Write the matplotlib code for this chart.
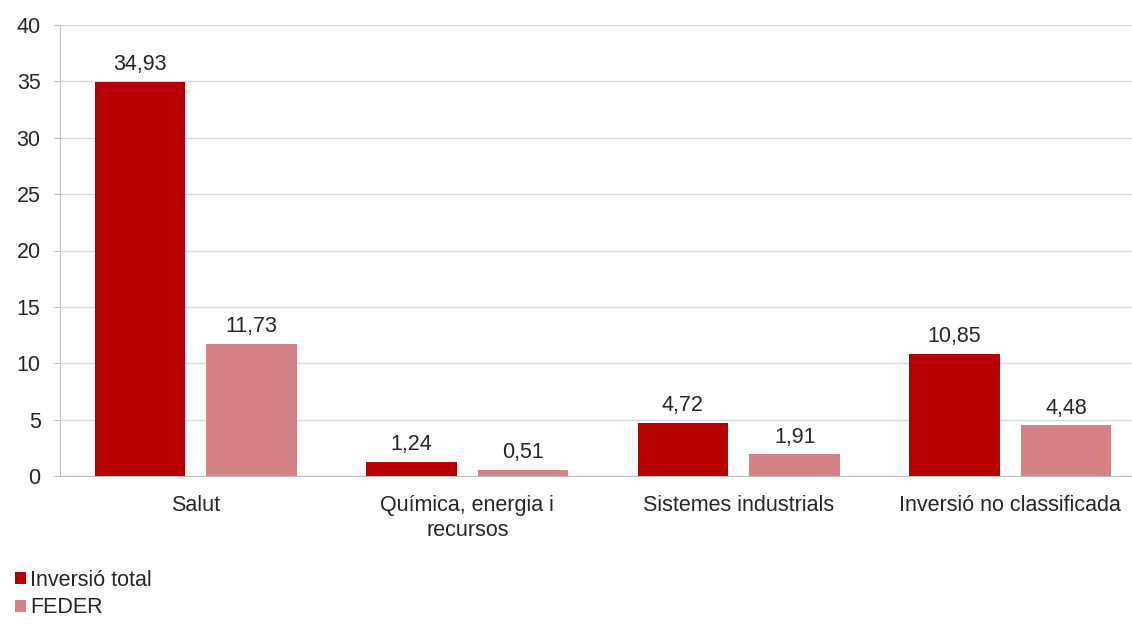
import numpy as np
import matplotlib.pyplot as plt

plt.rcParams['font.family'] = ['Liberation Sans', 'DejaVu Sans']

categories = ['Salut', 'Química, energia i\nrecursos', 'Sistemes industrials', 'Inversió no classificada']
inversio_total = [34.93, 1.24, 4.72, 10.85]
feder = [11.73, 0.51, 1.91, 4.48]
series_names = ['Inversió total', 'FEDER']

fig = plt.figure(figsize=(11.32, 6.24), dpi=100)
ax = fig.add_axes([60/1132, 148/624, 1086/1132, 451/624])

x = np.arange(len(categories))
w = 0.333
b1 = ax.bar(x - 0.206, inversio_total, w, color='#B90000', label=series_names[0], zorder=3)
b2 = ax.bar(x + 0.206, feder, w, color='#D48286', label=series_names[1], zorder=3)

for bars, vals in [(b1, inversio_total), (b2, feder)]:
    for r, v in zip(bars, vals):
        ax.text(r.get_x() + r.get_width()/2, v + 0.6, f'{v:.2f}'.replace('.', ','),
                ha='center', va='bottom', fontsize=15.5, color='#262626')

ax.set_ylim(0, 40)
ax.set_yticks(range(0, 41, 5))
ax.set_xlim(-0.5, 3.5)
ax.set_xticks(x)
ax.set_xticklabels(categories, fontsize=15.5, color='#262626')
ax.tick_params(axis='y', labelsize=15.5, labelcolor='#262626', length=4, color='#BFBFBF', pad=10)
ax.tick_params(axis='x', length=0, pad=14)
ax.grid(axis='y', color='#D9D9D9', linewidth=1, zorder=0)
for s in ['top', 'right']:
    ax.spines[s].set_visible(False)
ax.spines['left'].set_color('#BFBFBF')
ax.spines['bottom'].set_color('#BFBFBF')

fig.legend(handles=[b1, b2], loc='lower left', bbox_to_anchor=(-0.004, -0.022), frameon=False,
           fontsize=15.5, handlelength=0.5, handleheight=0.5, handletextpad=0.2,
           labelspacing=0.3, labelcolor='#262626')

fig.savefig('out.png', dpi=100)
